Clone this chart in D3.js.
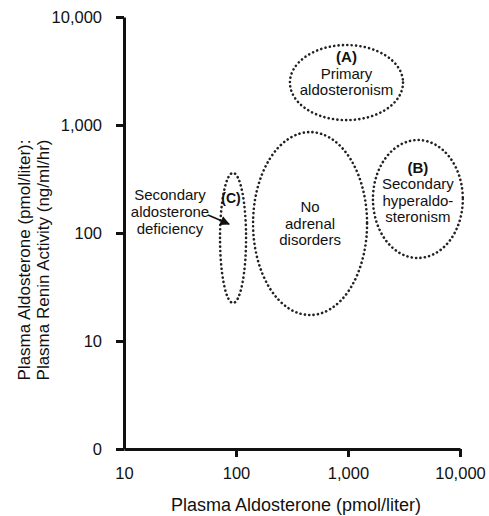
<!DOCTYPE html>
<html>
<head>
<meta charset="utf-8">
<script src="https://cdn.jsdelivr.net/npm/d3@7"></script>
<style>
  body { margin: 0; background: #fff; }
  svg { display: block; font-family: "Liberation Sans", Arial, sans-serif; }
  .axis .domain { stroke: #111; stroke-width: 3; }
  .axis .tick line { stroke: #111; stroke-width: 3; }
  .axis .tick text { font-size: 16.5px; fill: #111; font-family: "Liberation Sans", Arial, sans-serif; }
</style>
</head>
<body>
<div id="chart"></div>
<script>
// axis ticks
const xTicks = [10, 100, 1000, 10000];
const xTickLabels = ["10", "100", "1,000", "10,000"];
const yTicks = [1, 10, 100, 1000, 10000];
const yTickLabels = ["0", "10", "100", "1,000", "10,000"];

// regions (dotted ellipses), bounds in data units
const regionNames = ["A", "normal", "B", "C"];
const regionXLow = [303, 142, 1670, 72];
const regionXHigh = [3100, 1480, 10600, 123];
const regionYLow = [1110, 17.4, 58.7, 22.5];
const regionYHigh = [5500, 860, 726, 360];
const regionLabels = [
  ["(A)", "Primary", "aldosteronism"],
  ["No", "adrenal", "disorders"],
  ["(B)", "Secondary", "hyperaldo-", "steronism"],
  []
];
const cLabelLines = ["Secondary", "aldosterone", "deficiency"];

const width = 489, height = 516;
const margin = {top: 17, right: 29, bottom: 67, left: 124};

const svg = d3.select("#chart").append("svg")
  .attr("width", width)
  .attr("height", height);

const x = d3.scaleLog()
  .domain([10, 10000])
  .range([margin.left, width - margin.right]);

const y = d3.scaleLog()
  .domain([1, 10000])
  .range([height - margin.bottom, margin.top]);

const xAxis = svg.append("g")
  .attr("class", "axis")
  .attr("transform", `translate(0, ${y(1)})`)
  .call(d3.axisBottom(x)
    .tickValues(xTicks)
    .tickFormat((d, i) => xTickLabels[i])
    .tickSize(8)
    .tickSizeOuter(0)
    .tickPadding(10));
xAxis.select(".tick line").attr("opacity", 0);

svg.append("g")
  .attr("class", "axis")
  .attr("transform", `translate(${x(10)}, 0)`)
  .call(d3.axisLeft(y)
    .tickValues(yTicks)
    .tickFormat((d, i) => yTickLabels[i])
    .tickSize(8)
    .tickSizeOuter(0)
    .tickPadding(14));

// axis titles
svg.append("text")
  .attr("x", 296)
  .attr("y", 511)
  .attr("text-anchor", "middle")
  .style("font-size", "18px")
  .attr("fill", "#111")
  .text("Plasma Aldosterone (pmol/liter)");

const yTitle = svg.append("text")
  .attr("transform", "translate(30, 260) rotate(-90)")
  .attr("text-anchor", "middle")
  .style("font-size", "17px")
  .attr("fill", "#111");
yTitle.append("tspan").attr("x", 0).attr("dy", 0).text("Plasma Aldosterone (pmol/liter):");
yTitle.append("tspan").attr("x", 0).attr("dy", 19).text("Plasma Renin Activity (ng/ml/hr)");

// dotted ellipses
const regions = regionNames.map((name, i) => ({
  name,
  cx: (x(regionXLow[i]) + x(regionXHigh[i])) / 2,
  cy: (y(regionYLow[i]) + y(regionYHigh[i])) / 2,
  rx: (x(regionXHigh[i]) - x(regionXLow[i])) / 2,
  ry: (y(regionYLow[i]) - y(regionYHigh[i])) / 2,
  lines: regionLabels[i]
}));

svg.append("g").selectAll("ellipse")
  .data(regions)
  .enter().append("ellipse")
  .attr("cx", d => d.cx)
  .attr("cy", d => d.cy)
  .attr("rx", d => d.rx)
  .attr("ry", d => d.ry)
  .attr("fill", "none")
  .attr("stroke", "#222")
  .attr("stroke-width", 2.6)
  .attr("stroke-linecap", "round")
  .attr("stroke-dasharray", "0.1 4.3");

// labels inside ellipses
const lineHeight = 16.5;
const labelShift = {A: -9, normal: 0, B: -6.5, C: 0};
regions.forEach(r => {
  const n = r.lines.length;
  const t = svg.append("text")
    .attr("text-anchor", "middle")
    .style("font-size", "15px")
    .attr("fill", "#111");
  r.lines.forEach((line, j) => {
    t.append("tspan")
      .attr("x", r.cx)
      .attr("y", r.cy - (n - 1) * lineHeight / 2 + j * lineHeight + 5 + labelShift[r.name])
      .style("font-weight", line.startsWith("(") ? "bold" : null)
      .text(line);
  });
});

// (C) region label with arrow from the side text
const cRegion = regions[3];
svg.append("text")
  .attr("x", cRegion.cx - 2)
  .attr("y", cRegion.cy - 35)
  .attr("text-anchor", "middle")
  .style("font-size", "14px")
  .style("font-weight", "bold")
  .attr("fill", "#111")
  .text("(C)");

const cLabel = svg.append("text")
  .attr("text-anchor", "middle")
  .style("font-size", "15px")
  .attr("fill", "#111");
cLabelLines.forEach((line, j) => {
  cLabel.append("tspan")
    .attr("x", 170)
    .attr("y", 200 + j * 17)
    .text(line);
});

svg.append("defs").append("marker")
  .attr("id", "arrow")
  .attr("viewBox", "0 0 10 10")
  .attr("refX", 9).attr("refY", 5)
  .attr("markerWidth", 6).attr("markerHeight", 6)
  .attr("orient", "auto")
  .append("path")
  .attr("d", "M0,0L10,5L0,10Z")
  .attr("fill", "#111");

svg.append("line")
  .attr("x1", 208).attr("y1", 215)
  .attr("x2", cRegion.cx - 4).attr("y2", 224)
  .attr("stroke", "#111")
  .attr("stroke-width", 1.6)
  .attr("marker-end", "url(#arrow)");
</script>
</body>
</html>
